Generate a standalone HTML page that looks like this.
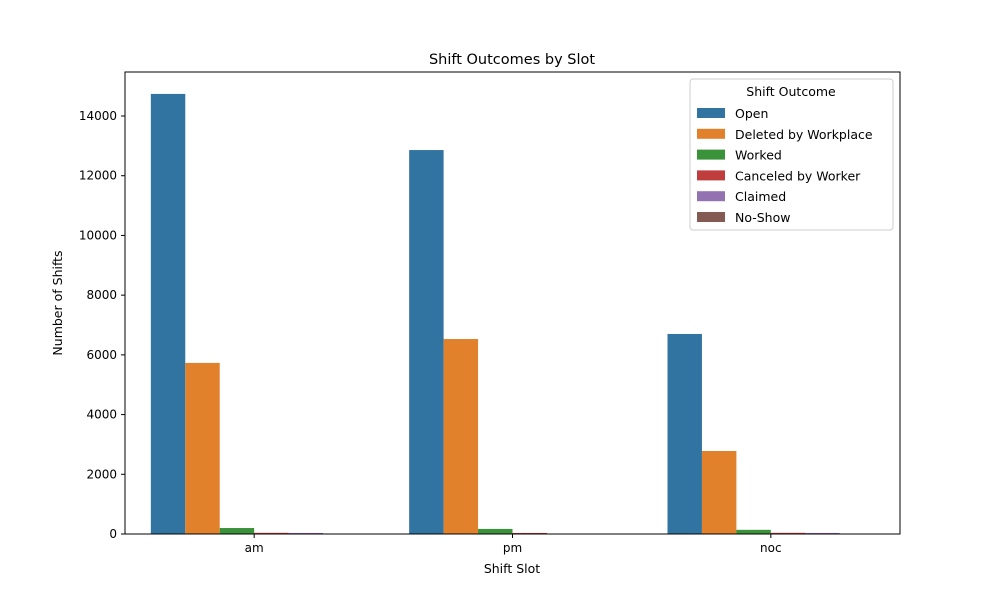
<!DOCTYPE html>
<html><head><meta charset="utf-8"><style>
body{margin:0;background:#fff;font-family:"Liberation Sans","DejaVu Sans",sans-serif}
svg text{font-family:"DejaVu Sans","Liberation Sans",sans-serif}
</style></head><body>
<svg id="c" width="1000" height="600"></svg>
<script>
const categories=["am","pm","noc"];
const outcomes=["Open","Deleted by Workplace","Worked","Canceled by Worker","Claimed","No-Show"];
const colors=["#3274a1","#e1812c","#3a923a","#c03d3e","#9372b2","#845b53"];
const openVals=[14740,12860,6700];
const deletedVals=[5730,6530,2780];
const workedVals=[200,170,140];
const canceledVals=[40,35,40];
const claimedVals=[35,5,35];
const noShowVals=[5,3,5];
const series=[openVals,deletedVals,workedVals,canceledVals,claimedVals,noShowVals];
const yTicks=[0,2000,4000,6000,8000,10000,12000,14000];
const L=125,R=900,T=72,B=534,yMax=15474;
const svg=document.getElementById('c');const NS="http://www.w3.org/2000/svg";
function el(t,a,p){const e=document.createElementNS(NS,t);for(const k in a)e.setAttribute(k,a[k]);(p||svg).appendChild(e);return e;}
const y=v=>B-v/yMax*(B-T);
const band=(R-L)/categories.length;
const xc=i=>L+band*(i+0.5);
const bw=band*0.8/outcomes.length;
series.forEach((s,j)=>s.forEach((v,i)=>{
 const r=el('rect',{x:xc(i)-band*0.4+j*bw,y:y(v),width:bw,height:B-y(v),fill:colors[j]});
 
 
}));
const ax=el('rect',{x:L,y:T,width:R-L,height:B-T,fill:'none',stroke:'#000','stroke-width':1});

yTicks.forEach(v=>{el('line',{x1:L-4,x2:L,y1:y(v),y2:y(v),stroke:'#000'});
 const t=el('text',{x:L-8,y:y(v)+4,'text-anchor':'end','font-size':12});t.textContent=v;
 });
categories.forEach((c,i)=>{el('line',{x1:xc(i),x2:xc(i),y1:B,y2:B+4,stroke:'#000'});
 const t=el('text',{x:xc(i),y:B+18,'text-anchor':'middle','font-size':12});t.textContent=c;
 });
let t=el('text',{x:512,y:64,'text-anchor':'middle','font-size':14.5});t.textContent="Shift Outcomes by Slot";

t=el('text',{x:512,y:573,'text-anchor':'middle','font-size':12.5});t.textContent="Shift Slot";

t=el('text',{x:62,y:303,'text-anchor':'middle','font-size':12.5,transform:'rotate(-90 62 303)'});t.textContent="Number of Shifts";

const lg=el('g',{});
el('rect',{x:690,y:79,width:203,height:151,rx:3,fill:'#fff',stroke:'#ccc'},lg);
t=el('text',{x:791,y:96,'text-anchor':'middle','font-size':12.5},lg);t.textContent="Shift Outcome";
outcomes.forEach((o,j)=>{const yy=108+j*20.8;
 const g=el('g',{},lg);
 el('rect',{x:697,y:yy,width:28,height:10,fill:colors[j]},g);
 const tx=el('text',{x:735,y:yy+10,'font-size':12.5},g);tx.textContent=o;});
</script>
</body></html>
